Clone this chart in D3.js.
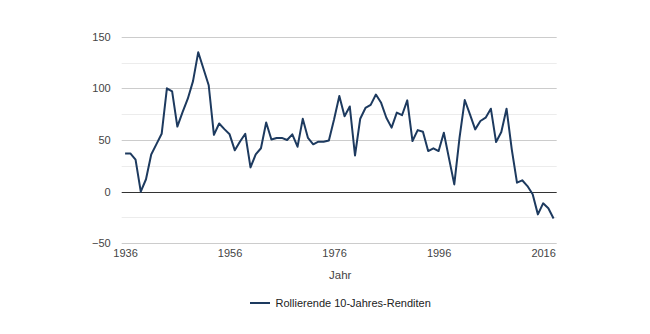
<!DOCTYPE html>
<html>
<head>
<meta charset="utf-8">
<script src="https://cdn.jsdelivr.net/npm/d3@7"></script>
<style>
  html, body { margin: 0; padding: 0; background: #fff; }
  svg { display: block; font-family: "Liberation Sans", Arial, sans-serif; }
</style>
</head>
<body>
<svg id="chart" width="650" height="334"></svg>
<script>
// Rolling 10-year returns, one value per year
const years = d3.range(1936, 2019);
const returns = [
  37, 37, 31, 0, 12, 36, 46, 56, 100, 97,
  63, 77, 90, 107, 135, 119, 103, 55, 66, 60.5,
  55.5, 40, 48.5, 56, 23.5, 36, 42, 67, 50.5, 52,
  52, 50, 55.5, 43.5, 70.5, 52, 45.8, 48.4, 48.4, 49.6,
  70, 92.6, 73, 82.5, 35, 70.6, 81, 84, 94, 86,
  71.5, 62, 76.5, 74, 88.4, 49, 59.6, 58, 39.3, 42,
  39.3, 57, 32, 7, 52, 88.7, 74.8, 60.3, 68.4, 71.6,
  80.3, 48, 57.7, 80.3, 41, 8.7, 11, 5.4, -2.6, -22,
  -11.3, -16, -26
];
const xTicks = [1936, 1956, 1976, 1996, 2016];
const yTicks = [-50, 0, 50, 100, 150];
const yMinorTicks = [-25, 25, 75, 125];
const seriesName = "Rollierende 10-Jahres-Renditen";
const xTitle = "Jahr";

const data = years.map((y, i) => ({ year: y, value: returns[i] }));

const svg = d3.select("#chart");
const plotLeft = 121.7, plotRight = 556.7, plotTop = 36.7, plotBottom = 243.3;

const x = d3.scaleLinear().domain([1935.35, 2018.6]).range([plotLeft, plotRight]);
const y = d3.scaleLinear().domain([-50, 150]).range([plotBottom, plotTop]);

const lineColor = "#1d3a5f";
const textColor = "#444";

// minor gridlines
svg.append("g").selectAll("line").data(yMinorTicks).join("line")
  .attr("x1", plotLeft).attr("x2", plotRight)
  .attr("y1", d => Math.round(y(d)) + 0.5).attr("y2", d => Math.round(y(d)) + 0.5)
  .attr("stroke", "#ececec").attr("stroke-width", 1);

// major gridlines
svg.append("g").selectAll("line").data(yTicks.filter(d => d !== 0)).join("line")
  .attr("x1", plotLeft).attr("x2", plotRight)
  .attr("y1", d => Math.round(y(d)) + 0.5).attr("y2", d => Math.round(y(d)) + 0.5)
  .attr("stroke", "#cccccc").attr("stroke-width", 1);

// y axis labels
const yAxis = d3.axisLeft(y).tickValues(yTicks).tickSize(0).tickPadding(11);
const gy = svg.append("g").attr("transform", `translate(${plotLeft},0)`).call(yAxis);
gy.select(".domain").remove();
gy.selectAll("text").attr("fill", textColor).style("font-size", "11px")
  .style("font-family", "'Liberation Sans', Arial, sans-serif");

// x axis labels
const xAxis = d3.axisBottom(x).tickValues(xTicks).tickFormat(d3.format("d")).tickSize(0).tickPadding(6);
const gx = svg.append("g").attr("transform", `translate(0,${plotBottom})`).call(xAxis);
gx.select(".domain").remove();
gx.selectAll("text").attr("fill", textColor).style("font-size", "11px")
  .style("font-family", "'Liberation Sans', Arial, sans-serif");

// baseline at zero
svg.append("line")
  .attr("x1", plotLeft).attr("x2", plotRight)
  .attr("y1", Math.round(y(0)) + 0.5).attr("y2", Math.round(y(0)) + 0.5)
  .attr("stroke", "#333").attr("stroke-width", 1);

// series line
const line = d3.line().x(d => x(d.year)).y(d => y(d.value));
svg.append("path").datum(data)
  .attr("d", line)
  .attr("fill", "none")
  .attr("stroke", lineColor)
  .attr("stroke-width", 2)
  .attr("stroke-linejoin", "round");

// axis title
svg.append("text")
  .attr("x", (plotLeft + plotRight) / 2 + 1).attr("y", 279)
  .attr("text-anchor", "middle")
  .attr("fill", textColor)
  .style("font-size", "11.5px")
  .text(xTitle);

// legend
const legend = svg.append("g").attr("transform", "translate(250,303)");
legend.append("line").attr("x1", 0).attr("x2", 20).attr("y1", 0).attr("y2", 0)
  .attr("stroke", lineColor).attr("stroke-width", 2);
legend.append("text").attr("x", 25.5).attr("y", 4)
  .attr("fill", "#222").style("font-size", "11px")
  .text(seriesName);
</script>
</body>
</html>
